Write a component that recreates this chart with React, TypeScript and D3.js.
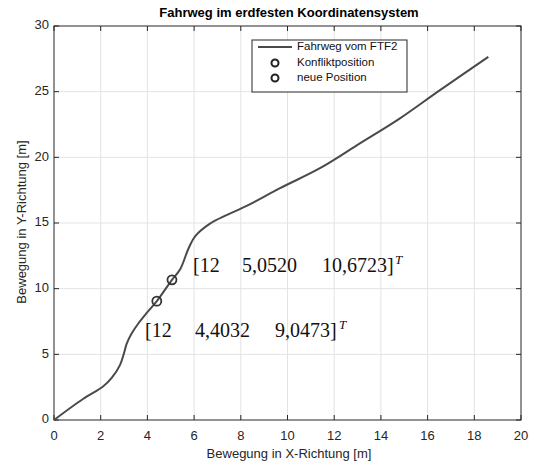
import React from "react";
import * as d3 from "d3";

const pathX = [0, 1.24, 2.1, 2.47, 2.83, 3.0, 3.11, 3.33, 3.61, 3.97, 4.4032, 5.052, 5.41, 5.77, 6.05, 6.68, 7.39, 8.25, 9.68, 11.39, 13.1, 14.8, 16.5, 18.6];
const pathY = [0, 1.6, 2.55, 3.2, 4.2, 5.1, 5.8, 6.6, 7.35, 8.15, 9.0473, 10.6723, 11.5, 13.1, 14.0, 14.95, 15.6, 16.3, 17.65, 19.17, 21.06, 22.95, 25.08, 27.65];
const markerX = [5.052, 4.4032];
const markerY = [10.6723, 9.0473];
const xTicks = [0, 2, 4, 6, 8, 10, 12, 14, 16, 18, 20];
const yTicks = [0, 5, 10, 15, 20, 25, 30];
const legendLabels = ["Fahrweg vom FTF2", "Konfliktposition", "neue Position"];
const annot1 = ["[12", "5,0520", "10,6723]"];
const annot2 = ["[12", "4,4032", "9,0473]"];
const title = "Fahrweg im erdfesten Koordinatensystem";
const xLabel = "Bewegung in X-Richtung [m]";
const yLabel = "Bewegung in Y-Richtung [m]";

const W = 534, H = 465;
const L = 54, R = 521, T = 26, B = 420;
const axisColor = "#262626";
const lineColor = "#4a4a4a";
const font = "'Liberation Sans', Arial, sans-serif";
const serif = "'Liberation Serif', 'DejaVu Serif', serif";

export default function App() {
  const x = d3.scaleLinear().domain([0, 20]).range([L, R]);
  const y = d3.scaleLinear().domain([0, 30]).range([B, T]);
  const pts: [number, number][] = pathX.map((v, i) => [v, pathY[i]]);
  const line = d3.line<[number, number]>().x(d => x(d[0])).y(d => y(d[1])).curve(d3.curveCatmullRom.alpha(0.5));
  const tl = 5;
  return (
    <svg width={W} height={H} style={{ position: "absolute", left: 0, top: 0, background: "#fff" }}>
      <rect x={0} y={0} width={W} height={H} fill="#fff" />
      {xTicks.slice(1, -1).map(t => (
        <line key={"gx" + t} x1={x(t)} x2={x(t)} y1={T} y2={B} stroke="#e3e3e3" strokeWidth={1} />
      ))}
      {yTicks.slice(1, -1).map(t => (
        <line key={"gy" + t} x1={L} x2={R} y1={y(t)} y2={y(t)} stroke="#e3e3e3" strokeWidth={1} />
      ))}
      {xTicks.map(t => (
        <g key={"tx" + t}>
          <line x1={x(t)} x2={x(t)} y1={B} y2={B - tl} stroke={axisColor} />
          <line x1={x(t)} x2={x(t)} y1={T} y2={T + tl} stroke={axisColor} />
          <text x={x(t)} y={437} textAnchor="middle" dominantBaseline="middle" fontFamily={font} fontSize={13} fill={axisColor}>{t}</text>
        </g>
      ))}
      {yTicks.map(t => (
        <g key={"ty" + t}>
          <line x1={L} x2={L + tl} y1={y(t)} y2={y(t)} stroke={axisColor} />
          <line x1={R} x2={R - tl} y1={y(t)} y2={y(t)} stroke={axisColor} />
          <text x={L - 5} y={y(t)} textAnchor="end" dominantBaseline="middle" fontFamily={font} fontSize={13} fill={axisColor}>{t}</text>
        </g>
      ))}
      <rect x={L} y={T} width={R - L} height={B - T} fill="none" stroke={axisColor} strokeWidth={1} />
      <path d={line(pts) || ""} fill="none" stroke={lineColor} strokeWidth={2} />
      {markerX.map((v, i) => (
        <circle key={"m" + i} cx={x(v)} cy={y(markerY[i])} r={4.5} fill="none" stroke="#333" strokeWidth={1.8} />
      ))}
      <text fontFamily={serif} fontSize={20} fill="#111" y={272}>
        <tspan x={193}>{annot1[0]}</tspan>
        <tspan x={242}>{annot1[1]}</tspan>
        <tspan x={322}>{annot1[2]}</tspan>
        <tspan x={395} dy={-8} fontSize={13} fontStyle="italic">T</tspan>
      </text>
      <text fontFamily={serif} fontSize={20} fill="#111" y={337}>
        <tspan x={145}>{annot2[0]}</tspan>
        <tspan x={195}>{annot2[1]}</tspan>
        <tspan x={275}>{annot2[2]}</tspan>
        <tspan x={339} dy={-8} fontSize={13} fontStyle="italic">T</tspan>
      </text>
      <rect x={252} y={40} width={155} height={52} fill="#fff" stroke={axisColor} strokeWidth={1} />
      <line x1={258} x2={292} y1={47} y2={47} stroke={lineColor} strokeWidth={2} />
      <circle cx={275} cy={63} r={3.5} fill="none" stroke="#222" strokeWidth={2} />
      <circle cx={275} cy={78} r={3.5} fill="none" stroke="#222" strokeWidth={2} />
      {legendLabels.map((s, i) => (
        <text key={s} x={297} y={[47, 63, 78][i]} dominantBaseline="middle" fontFamily={font} fontSize={11.5} fill="#111">{s}</text>
      ))}
      <text x={289} y={17} textAnchor="middle" fontFamily={font} fontSize={13} fontWeight="bold" fill="#000">{title}</text>
      <text x={289} y={455} textAnchor="middle" dominantBaseline="middle" fontFamily={font} fontSize={13} fill={axisColor}>{xLabel}</text>
      <text transform={`translate(23,222) rotate(-90)`} textAnchor="middle" dominantBaseline="middle" fontFamily={font} fontSize={13} fill={axisColor}>{yLabel}</text>
    </svg>
  );
}
